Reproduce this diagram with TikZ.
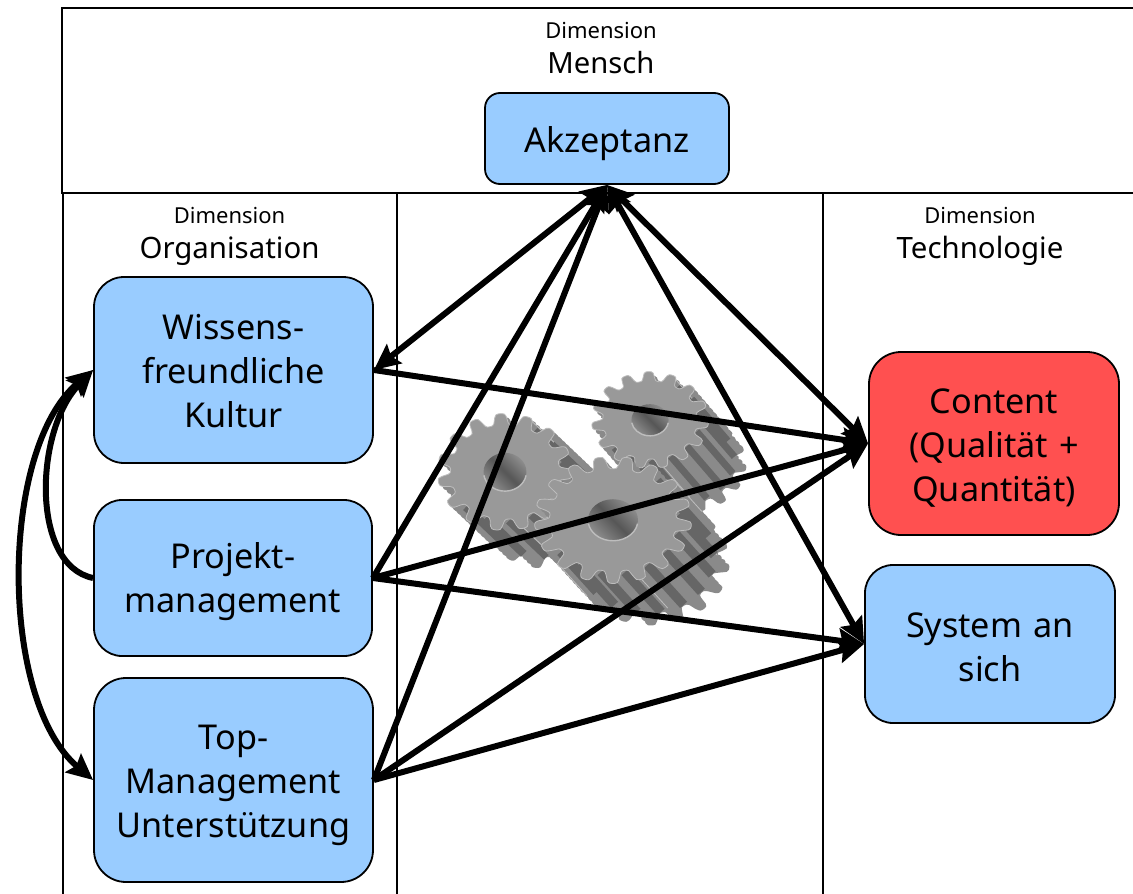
\documentclass[tikz,border=0pt]{standalone}
\usepackage{fontspec}
\setmainfont{Noto Sans}
\usetikzlibrary{arrows.meta}
\definecolor{boxblue}{HTML}{99CCFF}
\definecolor{boxred}{HTML}{FF5050}
\definecolor{gearface}{HTML}{999999}
\definecolor{geardark}{HTML}{666666}
\definecolor{gearmid}{HTML}{8A8A8A}
\definecolor{gearlight}{HTML}{BDBDBD}
\tikzset{
  framepart/.style={draw=black,line width=2pt},
  factor/.style={draw=black,line width=1.8pt,fill=boxblue,align=center,inner sep=0pt,
    font=\fontsize{34.2}{44}\selectfont,text width=270pt},
  lowered/.style={execute at begin node={\rule{0pt}{#1}}},
  dimlabel/.style={align=center,inner sep=0pt},
  link/.style={line width=6pt,-{Stealth[length=26pt,width=24pt,inset=4pt]}},
  dlink/.style={line width=6pt,{Stealth[length=26pt,width=24pt,inset=4pt]}-{Stealth[length=26pt,width=24pt,inset=4pt]}}
}
% centre x, centre y, half width, half height, teeth, depth x, depth y, phase
\newcommand{\gearplot}[8]{%
  plot[smooth,samples=200,domain=0:360,variable=\t]
  ({#1+#3*(0.91+0.10*tanh(2.2*sin(#5*\t+#8)))*cos(\t)+#6},
   {#2+#4*(0.91+0.10*tanh(2.2*sin(#5*\t+#8)))*sin(\t)+#7}) -- cycle}
\newcommand{\drawgear}[8]{%
  \foreach \d in {1,0.9,...,0.05}{
    \fill[gearmid] \gearplot{#1}{#2}{#3}{#4}{#5}{\d*#6}{\d*#7}{#8};
  }
  \pgfmathsetmacro{\gstep}{360/#5}
  \foreach \k in {0,...,\numexpr#5-1\relax}{
    \pgfmathsetmacro{\ga}{(90-#8)/#5+\k*\gstep}
    \pgfmathsetmacro{\gb}{\ga+\gstep/2}
    \pgfmathsetmacro{\hx}{#1+#3*0.84*cos(\gb)}
    \pgfmathsetmacro{\hy}{#2+#4*0.84*sin(\gb)}
    \pgfmathsetmacro{\gx}{#1+#3*1.0*cos(\ga)}
    \pgfmathsetmacro{\gy}{#2+#4*1.0*sin(\ga)}
    \pgfmathsetmacro{\show}{cos(\gb-48)>-0.3 ? 1 : 0}
    \pgfmathtruncatemacro{\showi}{\show}
    \pgfmathtruncatemacro{\third}{mod(\k,3)}
    \ifnum\showi=1\relax
      \draw[geardark,line width=#3*0.12pt] (\hx,\hy) -- ++(#6*0.95,#7*0.95);
      \ifnum\third=0\relax
        \draw[gearlight,line width=0.8pt] (\gx,\gy) -- ++(#6*0.7,#7*0.7);
      \fi
    \fi
  }
  \fill[gearface,draw=gearlight,line width=0.8pt] \gearplot{#1}{#2}{#3}{#4}{#5}{0}{0}{#8};
  \begin{scope}
    \clip (#1,#2) ellipse [x radius=#3*0.32,y radius=#4*0.33];
    \shade[left color=gearface,right color=gearface,middle color=geardark!85!black,shading angle=-45]
      (#1-#3*0.4,#2-#4*0.4) rectangle (#1+#3*0.4,#2+#4*0.4);
  \end{scope}
  \draw[gearlight,line width=1.4pt] ([shift={(#1,#2)}]10:#3*0.32 and #4*0.33)
    arc [start angle=10,end angle=170,x radius=#3*0.32,y radius=#4*0.33];
}
\begin{document}
\begin{tikzpicture}[x=1pt,y=-1pt]
\useasboundingbox (0,0) rectangle (1133,894);
\clip (0,0) rectangle (1133,894);
\fill[white] (0,0) rectangle (1133,894);
% frames
\draw[framepart] (62,8) rectangle (1150,193);
\draw[framepart] (63,193) rectangle (397,910);
\draw[framepart] (397,193) rectangle (823,910);
\draw[framepart] (823,193) rectangle (1150,910);
% gears
\drawgear{650}{420}{58}{48}{15}{38}{44}{20}
\drawgear{505}{472}{67}{58}{15}{40}{38}{60}
\drawgear{613}{520}{78}{63}{17}{38}{42}{0}
% labels
\node[dimlabel] (dimM) at (601,48) {\fontsize{22}{26}\selectfont Dimension\\[12pt]\fontsize{29.2}{32}\selectfont Mensch};
\node[dimlabel] (dimO) at (229.5,236.5) {\fontsize{22}{26}\selectfont Dimension\\[12pt]\fontsize{29.4}{32}\selectfont Organisation};
\node[dimlabel] (dimT) at (980,236.5) {\fontsize{22}{26}\selectfont Dimension\\[12pt]\fontsize{29.4}{32}\selectfont Technologie};
% factors
\node[factor,lowered=37pt,minimum width=244pt,minimum height=91pt,rounded corners=15pt,text width=230pt] (akz) at (607,138.5) {Akzeptanz};
\node[factor,lowered=28pt,minimum width=279pt,minimum height=186pt,rounded corners=30pt] (wk) at (233.5,370) {Wissens-\\freundliche\\Kultur};
\node[factor,lowered=33pt,minimum width=278pt,minimum height=156pt,rounded corners=28pt] (pm) at (233,578) {Projekt-\\management};
\node[factor,lowered=35pt,minimum width=279pt,minimum height=204pt,rounded corners=32pt] (tm) at (233.5,780) {Top-\\Management\\Unterstützung};
\node[factor,lowered=33pt,fill=boxred,minimum width=250pt,minimum height=183pt,rounded corners=32pt,text width=240pt] (ct) at (994,443.5) {Content\\(Qualität +\\Quantität)};
\node[factor,lowered=31pt,minimum width=250pt,minimum height=158pt,rounded corners=28pt,text width=240pt] (sy) at (990,644) {System an\\sich};
% connectors
\draw[link] (wk.east) -- (ct.west);
\draw[link] (pm.east) -- (ct.west);
\draw[link] (pm.east) -- (sy.west);
\draw[link] (tm.east) -- (ct.west);
\draw[link] (tm.east) -- (sy.west);
\draw[dlink] (wk.east) -- (akz.south);
\draw[link] (pm.east) -- (akz.south);
\draw[link] (tm.east) -- (akz.south);
\draw[dlink] (ct.west) -- (akz.south);
\draw[dlink] (sy.west) -- (akz.south);
\draw[link] (pm.west) .. controls (30,565) and (35,430) .. (wk.west);
\draw[dlink] (tm.west) .. controls (-1,700) and (-1,450) .. (wk.west);
\end{tikzpicture}
\end{document}
